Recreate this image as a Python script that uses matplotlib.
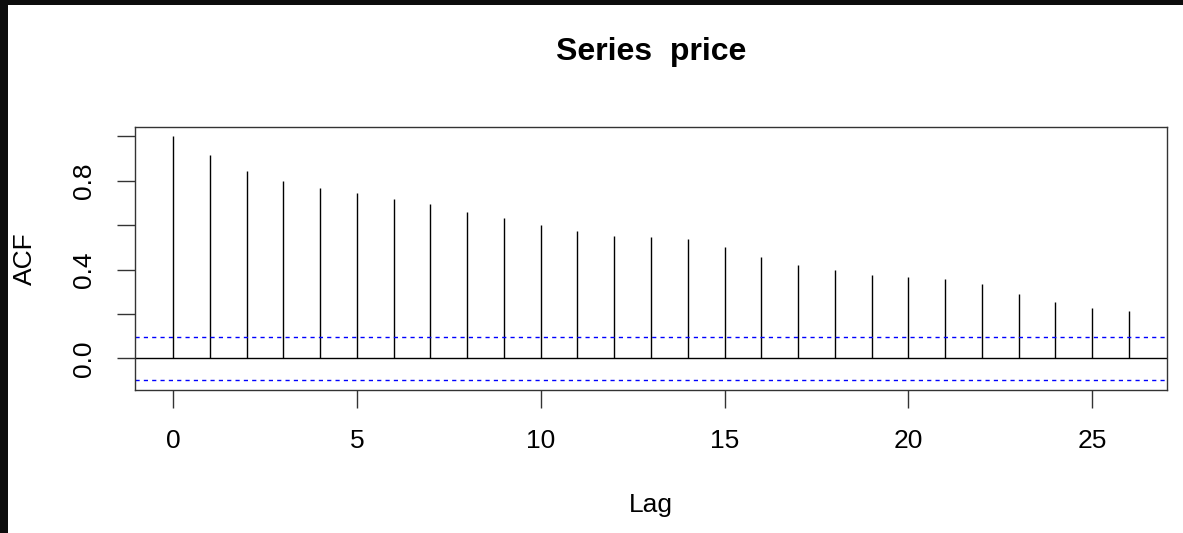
import matplotlib
matplotlib.use("Agg")
import matplotlib.pyplot as plt
from matplotlib.patches import Rectangle
import numpy as np

# Data
lags = list(range(0, 27))
acf_values = [1.000, 0.918, 0.843, 0.797, 0.768, 0.743, 0.716, 0.697, 0.661,
              0.631, 0.602, 0.575, 0.551, 0.545, 0.536, 0.500, 0.455, 0.419,
              0.400, 0.374, 0.365, 0.359, 0.334, 0.289, 0.253, 0.225, 0.213]
ci_bound = 0.096
x_ticks = [0, 5, 10, 15, 20, 25]
y_ticks = [0.0, 0.2, 0.4, 0.6, 0.8, 1.0]
y_tick_labels = ["0.0", "", "0.4", "", "0.8", ""]

plt.rcParams['font.family'] = ['Liberation Sans', 'DejaVu Sans']

W, H = 1183, 533
fig = plt.figure(figsize=(W / 100, H / 100), dpi=100)
fig.patch.set_facecolor("white")

# black border strips (screenshot frame)
fig.patches.append(Rectangle((0, 0), 8 / W, 1, transform=fig.transFigure,
                             facecolor="#0d0d0d", edgecolor="none"))
fig.patches.append(Rectangle((0, 1 - 5 / H), 1, 5 / H, transform=fig.transFigure,
                             facecolor="#0d0d0d", edgecolor="none"))

left, right, top, bottom = 135, 1167, 127, 390
ax = fig.add_axes([left / W, (H - bottom) / H, (right - left) / W, (bottom - top) / H])

ax.vlines(lags, 0, acf_values, colors="black", linewidth=1.0)
ax.axhline(0, color="black", linewidth=1.0)
ax.axhline(ci_bound, color="#0000ff", linewidth=1.0, dashes=(3, 3))
ax.axhline(-ci_bound, color="#0000ff", linewidth=1.0, dashes=(3, 3))

ax.set_xlim(-1.04, 27.04)
ax.set_ylim(-0.1424, 1.0424)

ax.set_xticks(x_ticks)
ax.set_xticklabels([str(t) for t in x_ticks])
ax.set_yticks(y_ticks)
ax.set_yticklabels(y_tick_labels, rotation=90, va="center")

for s in ax.spines.values():
    s.set_linewidth(1.0)
    s.set_color("#333333")

ax.tick_params(axis="both", direction="out", length=13, width=1.0,
               color="#333333", labelsize=19, pad=15)

ax.set_xlabel("Lag", fontsize=19, labelpad=29)
ax.set_ylabel("ACF", fontsize=19, labelpad=25)
ax.set_title("Series  price", fontsize=23, fontweight="bold", pad=48)

fig.savefig("out.png", dpi=100, facecolor=fig.get_facecolor())
